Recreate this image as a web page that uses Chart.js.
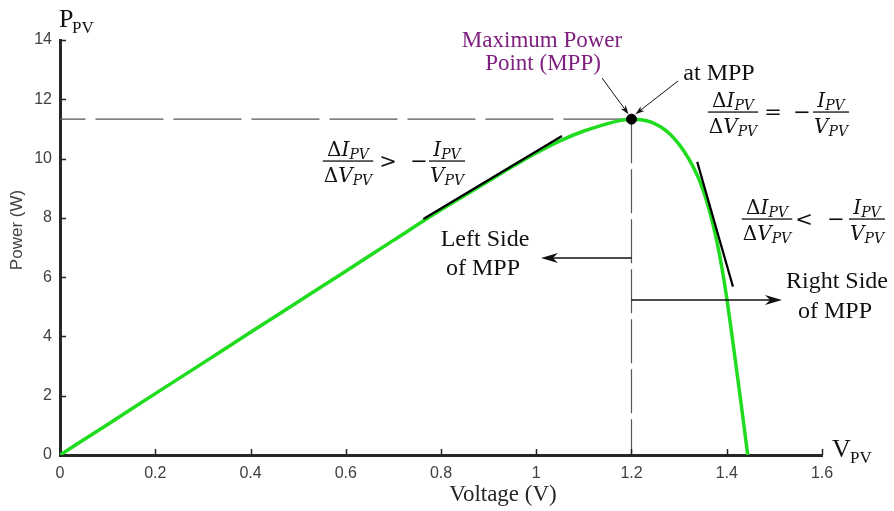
<!DOCTYPE html>
<html>
<head>
<meta charset="utf-8">
<script src="https://cdn.jsdelivr.net/npm/chart.js@4.4.0/dist/chart.umd.min.js"></script>
<style>
  body { margin: 0; background: #fff; }
  #wrap { width: 894px; height: 511px; }
</style>
</head>
<body>
<div id="wrap"><canvas id="pvChart"></canvas></div>
<script>
// P-V characteristic of the cell
const voltage = [0, 0.1, 0.2, 0.3, 0.4, 0.5, 0.6, 0.7, 0.8, 0.9, 0.95, 1.0, 1.05, 1.1, 1.15, 1.175, 1.2,
  1.22, 1.24, 1.26, 1.28, 1.3, 1.32, 1.34, 1.35, 1.36, 1.37, 1.38, 1.39, 1.4, 1.41, 1.42, 1.43, 1.444];
const power = [0, 1.03, 2.07, 3.1, 4.14, 5.17, 6.2, 7.24, 8.27, 9.24, 9.73, 10.19, 10.6, 10.93, 11.18, 11.28, 11.33,
  11.31, 11.24, 11.08, 10.84, 10.48, 10.0, 9.37, 8.95, 8.45, 7.85, 7.15, 6.3, 5.3, 4.15, 2.95, 1.75, 0];

// maximum power point
const mppVoltage = 1.2;
const mppPower = 11.33;

// tangent segments either side of the MPP
const leftTangentV = [0.763, 1.054];
const leftTangentP = [7.96, 10.76];
const rightTangentV = [1.338, 1.413];
const rightTangentP = [9.89, 5.68];

const xTicks = [0, 0.2, 0.4, 0.6, 0.8, 1, 1.2, 1.4, 1.6];
const yTicks = [0, 2, 4, 6, 8, 10, 12, 14];

const SERIF = '"Liberation Serif", "Times New Roman", serif';
const SANS = '"Liberation Sans", Arial, sans-serif';
const MATH = '"DejaVu Serif", serif';
const AXIS = '#262626';

function pts(xs, ys) {
  return xs.map(function(v, i) { return { x: v, y: ys[i] }; });
}

// ΔI_PV style term, returns its width
function term(ctx, x, base, letter, delta, draw) {
  const parts = [];
  if (delta) parts.push({ t: 'Δ', f: '20px ' + MATH, dy: 0 });
  parts.push({ t: letter, f: 'italic 20px ' + MATH, dy: 0 });
  parts.push({ t: 'PV', f: 'italic 14px ' + MATH, dy: 3 });
  let w = 0;
  parts.forEach(function(p) {
    ctx.font = p.f;
    if (draw) ctx.fillText(p.t, x + w, base + p.dy);
    w += ctx.measureText(p.t).width;
  });
  return w;
}

function fraction(ctx, cx, barY, delta) {
  const tw = term(ctx, 0, 0, 'I', delta, false);
  const bw = term(ctx, 0, 0, 'V', delta, false);
  const w = Math.max(tw, bw) + 2;
  term(ctx, cx - tw / 2, barY - 5, 'I', delta, true);
  term(ctx, cx - bw / 2, barY + 21, 'V', delta, true);
  ctx.fillRect(cx - w / 2, barY - 0.6, w, 1.3);
}

function symbol(ctx, s, cx, barY) {
  ctx.font = '21px ' + MATH;
  ctx.textAlign = 'center';
  ctx.fillText(s, cx, barY + 7);
  ctx.textAlign = 'left';
}

function arrow(ctx, x0, y0, x1, y1, len, half) {
  const a = Math.atan2(y1 - y0, x1 - x0);
  ctx.beginPath();
  ctx.moveTo(x0, y0);
  ctx.lineTo(x1 - Math.cos(a) * len * 0.6, y1 - Math.sin(a) * len * 0.6);
  ctx.stroke();
  ctx.save();
  ctx.translate(x1, y1);
  ctx.rotate(a);
  ctx.beginPath();
  ctx.moveTo(0, 0);
  ctx.lineTo(-len, -half);
  ctx.lineTo(-len * 0.7, 0);
  ctx.lineTo(-len, half);
  ctx.closePath();
  ctx.fill();
  ctx.restore();
}

function text(ctx, s, x, y, font, color, align) {
  ctx.font = font;
  ctx.fillStyle = color;
  ctx.textAlign = align || 'left';
  ctx.fillText(s, x, y);
  ctx.textAlign = 'left';
}

const annotations = {
  id: 'annotations',
  afterDraw(chart) {
    const ctx = chart.ctx;
    const x = chart.scales.x;
    const y = chart.scales.y;
    ctx.save();

    // inward ticks
    ctx.strokeStyle = AXIS;
    ctx.lineWidth = 1.5;
    ctx.beginPath();
    xTicks.forEach(function(v) {
      if (v === 0) return;
      const px = Math.round(x.getPixelForValue(v)) + 0.5;
      ctx.moveTo(px, y.bottom);
      ctx.lineTo(px, y.bottom - 6);
    });
    yTicks.forEach(function(v) {
      if (v === 0) return;
      const py = Math.round(y.getPixelForValue(v)) + 0.5;
      ctx.moveTo(x.left, py);
      ctx.lineTo(x.left + 6, py);
    });
    ctx.stroke();

    // axis titles
    text(ctx, 'Voltage (V)', 503, 501, '23px ' + SERIF, AXIS, 'center');
    ctx.save();
    ctx.translate(17, 230);
    ctx.rotate(-Math.PI / 2);
    ctx.textBaseline = 'middle';
    text(ctx, 'Power (W)', 0, 0, '17px ' + SANS, '#404040', 'center');
    ctx.restore();

    text(ctx, 'P', 59, 27, '26px ' + SERIF, '#111');
    text(ctx, 'PV', 72, 33, '17px ' + SERIF, '#111');
    text(ctx, 'V', 832, 457, '26px ' + SERIF, '#111');
    text(ctx, 'PV', 850, 463, '17px ' + SERIF, '#111');

    // MPP labels
    text(ctx, 'Maximum Power', 542, 47, '23px ' + SERIF, '#7f1f80', 'center');
    text(ctx, 'Point (MPP)', 543, 70, '23px ' + SERIF, '#7f1f80', 'center');
    text(ctx, 'at MPP', 719, 80, '24px ' + SERIF, '#111', 'center');

    text(ctx, 'Left Side', 485, 246, '24px ' + SERIF, '#111', 'center');
    text(ctx, 'of MPP', 483, 275, '24px ' + SERIF, '#111', 'center');
    text(ctx, 'Right Side', 837, 288, '24px ' + SERIF, '#111', 'center');
    text(ctx, 'of MPP', 835, 318, '24px ' + SERIF, '#111', 'center');

    // arrows
    const mx = x.getPixelForValue(mppVoltage);
    const my = y.getPixelForValue(mppPower);
    ctx.strokeStyle = '#111';
    ctx.fillStyle = '#111';
    ctx.lineWidth = 1;
    arrow(ctx, 602, 78, mx - 3, my - 5, 9, 3);
    arrow(ctx, 678, 81, mx + 4, my - 5, 9, 3);
    ctx.lineWidth = 1.5;
    arrow(ctx, mx, 258, 541, 258, 17, 5);
    arrow(ctx, mx, 300, 782, 300, 17, 5);

    // slope conditions
    ctx.fillStyle = '#111';
    fraction(ctx, 733, 112, true);
    symbol(ctx, '=', 773, 112);
    symbol(ctx, '−', 802, 112);
    fraction(ctx, 831, 112, false);

    fraction(ctx, 348, 161, true);
    symbol(ctx, '>', 388, 161);
    symbol(ctx, '−', 419, 161);
    fraction(ctx, 447, 161, false);

    fraction(ctx, 767, 219, true);
    symbol(ctx, '<', 804, 219);
    symbol(ctx, '−', 836, 219);
    fraction(ctx, 867, 219, false);

    ctx.restore();
  }
};

new Chart(document.getElementById('pvChart'), {
  type: 'line',
  data: {
    datasets: [
      {
        // MPP marker
        data: [{ x: mppVoltage, y: mppPower }],
        showLine: false,
        pointRadius: 5,
        pointBackgroundColor: '#000',
        pointBorderColor: '#000',
        order: 0
      },
      {
        data: pts(leftTangentV, leftTangentP),
        borderColor: '#000',
        borderWidth: 2.2,
        pointRadius: 0,
        order: 1
      },
      {
        data: pts(rightTangentV, rightTangentP),
        borderColor: '#000',
        borderWidth: 2.2,
        pointRadius: 0,
        order: 1
      },
      {
        label: 'Power',
        data: pts(voltage, power),
        borderColor: '#1fdc1f',
        borderWidth: 3.5,
        pointRadius: 0,
        cubicInterpolationMode: 'monotone',
        order: 2
      },
      {
        // guide lines through the MPP
        data: [{ x: mppVoltage, y: mppPower }, { x: 0, y: mppPower }],
        borderColor: '#555',
        borderWidth: 1.2,
        borderDash: [68, 10],
        pointRadius: 0,
        order: 3
      },
      {
        data: [{ x: mppVoltage, y: mppPower }, { x: mppVoltage, y: 0 }],
        borderColor: '#555',
        borderWidth: 1.2,
        borderDash: [44, 6],
        pointRadius: 0,
        order: 3
      }
    ]
  },
  options: {
    responsive: true,
    maintainAspectRatio: false,
    animation: false,
    layout: { padding: { left: 0, right: 72, top: 40, bottom: 0 } },
    plugins: { legend: { display: false }, tooltip: { enabled: false } },
    scales: {
      x: {
        type: 'linear',
        min: 0,
        max: 1.6,
        afterBuildTicks: function(scale) {
          scale.ticks = xTicks.map(function(v) { return { value: v }; });
        },
        afterFit: function(scale) { scale.height = 56; },
        grid: { drawOnChartArea: false, drawTicks: false },
        border: { color: AXIS, width: 3 },
        ticks: {
          padding: 9,
          color: '#404040',
          font: { family: SANS, size: 16 },
          callback: function(v) { return String(v); }
        }
      },
      y: {
        min: 0,
        max: 14,
        afterBuildTicks: function(scale) {
          scale.ticks = yTicks.map(function(v) { return { value: v }; });
        },
        afterFit: function(scale) { scale.width = 60; },
        grid: { drawOnChartArea: false, drawTicks: false },
        border: { color: AXIS, width: 3 },
        ticks: {
          padding: 8,
          color: '#404040',
          font: { family: SANS, size: 16 },
          callback: function(v) { return String(v); }
        }
      }
    }
  },
  plugins: [annotations]
});
</script>
</body>
</html>
